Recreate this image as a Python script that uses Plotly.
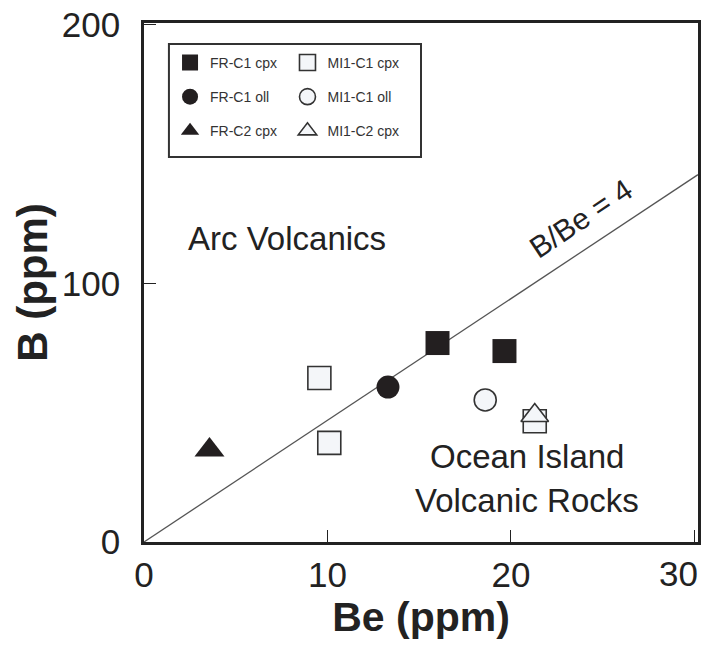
import plotly.graph_objects as go

# ---- data ----
fr_c1_cpx_be = [16.0, 19.65]
fr_c1_cpx_b = [76.9, 73.8]
fr_c1_oll_be = [13.3]
fr_c1_oll_b = [59.9]
fr_c2_cpx_be = [3.57]
fr_c2_cpx_b = [35.6]
mi1_c1_cpx_be = [9.56, 10.1, 21.3]
mi1_c1_cpx_b = [63.4, 38.3, 46.7]
mi1_c1_oll_be = [18.6]
mi1_c1_oll_b = [54.9]
mi1_c2_cpx_be = [21.3]
mi1_c2_cpx_b = [48.9]
line_be = [0, 30.2]
line_b = [0, 142]
x_ticks = [0, 10, 20, 30]
x_tick_labels = ["0", "10", "20", "30"]
y_ticks = [0, 100, 200]
x_max = 30.2

FONT = "Liberation Sans, Arial, sans-serif"
DARK = "#231f20"
OPEN_FILL = "#f4f6f9"
OPEN_LINE = "#333333"
TXT = "#222222"
TICK_SIZE = 35

fig = go.Figure()

fig.add_trace(go.Scatter(x=line_be, y=line_b, mode="lines",
                         line=dict(color="#555555", width=1.3),
                         showlegend=False, hoverinfo="skip"))

series = [
    ("FR-C1 cpx", fr_c1_cpx_be, fr_c1_cpx_b, "square", True, 24, "legend"),
    ("FR-C1 oll", fr_c1_oll_be, fr_c1_oll_b, "circle", True, 23, "legend"),
    ("FR-C2 cpx", fr_c2_cpx_be, fr_c2_cpx_b, "triangle-up", True, 26, "legend"),
    ("MI1-C1 cpx", mi1_c1_cpx_be, mi1_c1_cpx_b, "square", False, 23, "legend2"),
    ("MI1-C1 oll", mi1_c1_oll_be, mi1_c1_oll_b, "circle", False, 22, "legend2"),
    ("MI1-C2 cpx", mi1_c2_cpx_be, mi1_c2_cpx_b, "triangle-up", False, 24, "legend2"),
]
for name, xs, ys, sym, filled, size, lg in series:
    fig.add_trace(go.Scatter(
        x=xs, y=ys, mode="markers", name=name, legend=lg, legendgroup=name,
        marker=dict(symbol=sym, size=size,
                    color=DARK if filled else OPEN_FILL,
                    line=dict(color=DARK if filled else OPEN_LINE, width=0 if filled else 1.6)),
    ))

axis_common = dict(
    showgrid=False, zeroline=False, showline=True, linecolor=TXT, linewidth=2.5,
    mirror=True, ticks="inside", ticklen=12, tickwidth=1.3, tickcolor=TXT,
    tickfont=dict(family=FONT, size=TICK_SIZE, color=TXT), ticklabeloverflow="allow",
    automargin=False,
)
# the last x tick label sits at the figure edge; it is drawn right-aligned below
fig.update_xaxes(range=[0, x_max], tickvals=x_ticks,
                 ticktext=x_tick_labels[:-1] + [""], **axis_common,
                 title=dict(text="<b>Be (ppm)</b>", font=dict(family=FONT, size=41, color=TXT),
                            standoff=8))
fig.update_yaxes(range=[0, 200.6], tickvals=y_ticks, ticklabelstandoff=14, **axis_common,
                 title=dict(text="<b>B (ppm)</b>", font=dict(family=FONT, size=42, color=TXT),
                            standoff=2))
fig.add_annotation(x=x_max, xref="x", y=0, yref="paper", yanchor="top", xanchor="right",
                   yshift=-10, xshift=2, text=x_tick_labels[-1], showarrow=False,
                   font=dict(family=FONT, size=TICK_SIZE, color=TXT))

leg_common = dict(font=dict(family=FONT, size=14, color="#333333"), bgcolor="rgba(0,0,0,0)",
                  borderwidth=0, tracegroupgap=13, itemsizing="trace",
                  xanchor="left", yanchor="top")
fig.update_layout(
    legend=dict(x=0.047, y=0.954, **leg_common),
    legend2=dict(x=0.259, y=0.954, **leg_common),
)

fig.add_shape(type="rect", xref="paper", yref="paper", x0=0.045, x1=0.5, y0=0.742, y1=0.9595,
              line=dict(color="#333333", width=2))

ann_font = dict(family=FONT, size=33, color=TXT)
fig.add_annotation(x=2.3, y=117.5, text="Arc Volcanics", showarrow=False, xanchor="left",
                   font=ann_font)
fig.add_annotation(x=20.9, y=33.0, text="Ocean Island", showarrow=False, font=ann_font)
fig.add_annotation(x=20.9, y=16.0, text="Volcanic Rocks", showarrow=False, font=ann_font)
fig.add_annotation(x=23.8, y=125, text="B/Be = 4", showarrow=False, textangle=-33.6,
                   font=dict(family=FONT, size=30, color=TXT))

fig.update_layout(
    width=704, height=646,
    margin=dict(l=143.5, r=6, t=23, b=104),
    paper_bgcolor="white", plot_bgcolor="white",
)

fig.write_html("out.html", config={"displayModeBar": False},
               post_script="document.body.style.margin='0px';document.body.style.overflow='hidden';")
